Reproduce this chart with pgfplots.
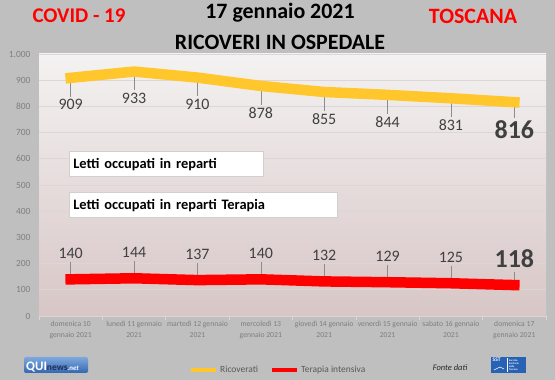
\documentclass[border=0pt]{standalone}
\usepackage{fontspec}
\setmainfont{Carlito}
\usepackage{pgfplots}
\pgfplotsset{compat=1.18}
\definecolor{bg}{HTML}{BFBFBF}
\definecolor{plTop}{HTML}{F4F2F2}
\definecolor{plMid}{HTML}{E6DCDC}
\definecolor{plBot}{HTML}{D8C6C6}
\definecolor{gridc}{HTML}{DDD6D6}
\definecolor{ricov}{HTML}{FFC72C}
\definecolor{terap}{HTML}{FF0000}
\definecolor{lab}{HTML}{404040}
\definecolor{tickc}{HTML}{7F7F7F}
\definecolor{legc}{HTML}{595959}
\definecolor{covid}{HTML}{FF0000}
\definecolor{boxbd}{HTML}{D0D0D0}
\definecolor{logoA}{HTML}{7FA9DE}
\definecolor{logoB}{HTML}{3467B0}
\definecolor{navy}{HTML}{1F2F5A}
\definecolor{sst}{HTML}{2862B4}
\definecolor{leader}{HTML}{8C8C8C}
\newcommand\lastlab[1]{{\fontsize{26}{28}\selectfont\bfseries #1}}
\begin{document}
\begin{tikzpicture}
\fill[bg] (0,0) rectangle (555bp,380bp);
\begin{axis}[
  at={(39bp,64bp)}, anchor=south west,
  scale only axis, width=507bp, height=262bp,
  xmin=-0.5, xmax=7.5, ymin=0, ymax=1000,
  clip=false,
  axis background/.style={shade, top color=plTop, middle color=plMid, bottom color=plBot},
  axis x line*=bottom, axis y line*=left,
  x axis line style={draw=gridc, line width=0.6bp},
  y axis line style={draw=none},
  ymajorgrids, major grid style={draw=gridc, line width=0.6bp},
  xtick={0,...,7},
  minor xtick={-0.5,0.5,...,7.5},
  tick align=outside,
  major tick length=0pt, minor tick length=4bp,
  minor tick style={draw=gridc, line width=0.6bp},
  xticklabels={domenica 10\\gennaio 2021,lunedì 11 gennaio\\2021,martedì 12 gennaio\\2021,mercoledì 13\\gennaio 2021,giovedì 14 gennaio\\2021,venerdì 15 gennaio\\2021,sabato 16 gennaio\\2021,domenica 17\\gennaio 2021},
  xticklabel style={align=center, font=\fontsize{7.7}{10.5}\selectfont, text=tickc, yshift=-2bp},
  ytick={0,100,...,1000},
  yticklabels={0,100,200,300,400,500,600,700,800,900,1.000},
  yticklabel style={font=\fontsize{9.5}{11}\selectfont, text=tickc, xshift=-5bp},
  legend style={at={(0.472,-0.206)}, anchor=center, draw=none, fill=none,
    font=\fontsize{9.5}{11}\selectfont, text=legc,
    /tikz/every even column/.append style={column sep=10bp}},
  legend columns=2,
  legend image code/.code={\draw[#1, line width=4bp, line cap=butt] (0bp,0bp) -- (25bp,0bp);},
]
% leader lines
\addplot[draw=none, mark=none, forget plot,
  error bars/.cd, y dir=minus, y explicit, error mark=none,
  error bar style={draw=leader, line width=0.4bp}]
  coordinates {(0,909) -= (0,72) (1,933) -= (0,72) (2,910) -= (0,72) (3,878) -= (0,72) (4,855) -= (0,72) (5,844) -= (0,72) (6,831) -= (0,72) (7,816) -= (0,62)};
\addplot[draw=none, mark=none, forget plot,
  error bars/.cd, y dir=plus, y explicit, error mark=none,
  error bar style={draw=leader, line width=0.4bp}]
  coordinates {(0,140) += (0,66) (1,144) += (0,66) (2,137) += (0,66) (3,140) += (0,66) (4,132) += (0,66) (5,129) += (0,66) (6,125) += (0,66) (7,118) += (0,50)};
\addplot[color=ricov, line width=10.5bp, line cap=rect, mark=none,
  nodes near coords, point meta=explicit symbolic,
  every node near coord/.append style={anchor=center, yshift=-27bp, font=\fontsize{16}{18}\selectfont, text=lab}]
  coordinates {(0,909)[909] (1,933)[933] (2,910)[910] (3,878)[878] (4,855)[855] (5,844)[844] (6,831)[831] (7,816)[\lastlab{816}]};
\addlegendentry{Ricoverati}
\addplot[color=terap, line width=10.5bp, line cap=rect, mark=none,
  nodes near coords, point meta=explicit symbolic,
  every node near coord/.append style={anchor=center, yshift=26bp, font=\fontsize{16}{18}\selectfont, text=lab}]
  coordinates {(0,140)[140] (1,144)[144] (2,137)[137] (3,140)[140] (4,132)[132] (5,129)[129] (6,125)[125] (7,118)[\lastlab{118}]};
\addlegendentry{Terapia intensiva}
\end{axis}
% text boxes
\node[draw=boxbd, line width=0.5bp, fill=white, anchor=south west, minimum width=194bp, minimum height=25bp, text width=186bp, align=left, inner xsep=4bp, inner ysep=0pt, font=\fontsize{14.5}{16}\selectfont\bfseries] at (69bp,203bp) {Letti occupati in reparti};
\node[draw=boxbd, line width=0.5bp, fill=white, anchor=south west, minimum width=268bp, minimum height=25bp, text width=260bp, align=left, inner xsep=4bp, inner ysep=0pt, font=\fontsize{14.5}{16}\selectfont\bfseries] at (69bp,162bp) {Letti occupati in reparti Terapia};
% titles
\node[font=\fontsize{22}{24}\selectfont\bfseries, text=black] at (280bp,367bp) {17 gennaio 2021};
\node[font=\fontsize{22}{24}\selectfont\bfseries, text=black] at (280bp,338bp) {RICOVERI IN OSPEDALE};
\node[font=\fontsize{21}{23}\selectfont\bfseries, text=covid] at (79bp,364bp) {COVID - 19};
\node[font=\fontsize{22}{24}\selectfont\bfseries, text=covid] at (473bp,364bp) {TOSCANA};
% footer
\node[font=\fontsize{8.5}{10}\selectfont\itshape, text=black!85] at (450bp,12bp) {Fonte dati};
\shade[rounded corners=2bp, top color=logoA, bottom color=logoB] (24bp,7bp) rectangle (88bp,23bp);
\node[anchor=base west, inner sep=0pt] at (26bp,10bp) {\fontsize{13}{13}\selectfont\bfseries\color{white}QUI\color{navy}\fontsize{9.5}{10}\selectfont news\color{white}\fontsize{7}{8}\selectfont\itshape .net};
\fill[sst] (491bp,7bp) rectangle (526bp,23bp);
\draw[white, line width=0.5bp] (507bp,8bp) -- (507bp,22bp);
\node[anchor=north west, inner sep=0pt, font=\fontsize{5.5}{6}\selectfont\bfseries, text=white] at (492.5bp,22bp) {SST};
\node[anchor=north west, inner sep=0pt, align=left, font=\fontsize{2.6}{3.1}\selectfont\bfseries, text=white] at (509bp,21bp) {Servizio\\Sanitario\\della\\Toscana};
\draw[white, line width=0.6bp] (494bp,10bp) -- (500bp,13bp) -- (504bp,11bp);
\pgfresetboundingbox
\useasboundingbox (0,0) rectangle (555bp,380bp);
\end{tikzpicture}
\end{document}
